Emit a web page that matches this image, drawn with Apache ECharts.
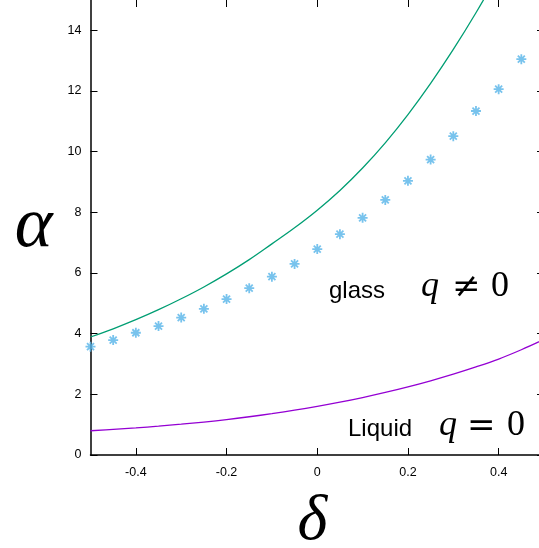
<!DOCTYPE html>
<html>
<head>
<meta charset="utf-8">
<script src="https://cdn.jsdelivr.net/npm/echarts@6/dist/echarts.min.js"></script>
<style>
html,body{margin:0;padding:0;background:#fff;overflow:hidden;}
#chart{width:539px;height:548px;}
</style>
</head>
<body>
<div id="chart"></div>
<script>
// ---- data ----
const xTicks = [-0.4, -0.2, 0, 0.2, 0.4];
const yTicks = [0, 2, 4, 6, 8, 10, 12, 14];

// glass points (asterisks)
const pointDelta = [-0.5, -0.45, -0.4, -0.35, -0.3, -0.25, -0.2, -0.15, -0.1, -0.05,
                    0, 0.05, 0.1, 0.15, 0.2, 0.25, 0.3, 0.35, 0.4, 0.45];
const pointAlpha = [3.57, 3.79, 4.03, 4.25, 4.53, 4.82, 5.14, 5.50, 5.88, 6.30,
                    6.79, 7.28, 7.82, 8.41, 9.04, 9.74, 10.51, 11.34, 12.06, 13.05];

// green curve
const greenDelta = [-0.5, -0.45, -0.4, -0.35, -0.3, -0.25, -0.2, -0.15, -0.1, -0.05,
                    0, 0.05, 0.1, 0.15, 0.2, 0.25, 0.3, 0.35, 0.4];
const greenAlpha = [3.89, 4.16, 4.46, 4.79, 5.15, 5.54, 5.97, 6.44, 6.96, 7.49,
                    8.07, 8.72, 9.46, 10.29, 11.22, 12.25, 13.37, 14.58, 15.88];

// purple curve (liquid)
const purpleDelta = [-0.5, -0.45, -0.4, -0.35, -0.3, -0.25, -0.2, -0.15, -0.1, -0.05,
                     0, 0.05, 0.1, 0.15, 0.2, 0.25, 0.3, 0.35, 0.4, 0.45, 0.5];
const purpleAlpha = [0.80, 0.846, 0.894, 0.951, 1.015, 1.087, 1.168, 1.261, 1.364, 1.477,
                     1.603, 1.742, 1.895, 2.063, 2.247, 2.447, 2.665, 2.903, 3.164, 3.47, 3.81];

const zip = (a, b) => a.map((v, i) => [v, b[i]]);

const chart = echarts.init(document.getElementById('chart'), null, {renderer: 'canvas'});

const sansFont = 'Liberation Sans, Arial, Helvetica, sans-serif';
const serifFont = 'Liberation Serif, DejaVu Serif, serif';

const axisLineStyle = {color: '#000', width: 1.5};
const tickStyle = {color: '#000', width: 1};

chart.setOption({
  animation: false,
  backgroundColor: '#fff',
  grid: {left: 90.5, right: -5, top: 0, bottom: 93, containLabel: false, outerBoundsMode: 'none'},
  xAxis: [
    {
      type: 'value', min: -0.5, max: 0.5, position: 'bottom',
      axisLine: {show: true, onZero: false, lineStyle: axisLineStyle},
      axisTick: {show: true, inside: true, length: 7, customValues: xTicks, lineStyle: tickStyle},
      axisLabel: {show: true, customValues: xTicks, color: '#000', fontSize: 12.5, fontFamily: sansFont, margin: 11},
      splitLine: {show: false},
      name: 'δ', nameLocation: 'middle', nameGap: 35,
      nameTextStyle: {fontFamily: serifFont, fontStyle: 'italic', fontSize: 64, color: '#000', padding: [0, 10, 0, 0]}
    },
    {
      type: 'value', min: -0.5, max: 0.5, position: 'top',
      axisLine: {show: false, onZero: false},
      axisTick: {show: true, inside: true, length: 7, customValues: xTicks, lineStyle: tickStyle},
      axisLabel: {show: false},
      splitLine: {show: false}
    }
  ],
  yAxis: [
    {
      type: 'value', min: 0, max: 15, position: 'left',
      axisLine: {show: true, onZero: false, lineStyle: axisLineStyle},
      axisTick: {show: true, inside: true, length: 7, customValues: yTicks, lineStyle: tickStyle},
      axisLabel: {show: true, customValues: yTicks, color: '#000', fontSize: 12.5, fontFamily: sansFont, margin: 9},
      splitLine: {show: false},
      name: 'α', nameLocation: 'middle', nameGap: 38, nameRotate: 0,
      nameTextStyle: {fontFamily: serifFont, fontStyle: 'italic', fontSize: 72, color: '#000', padding: [24, 0, 0, 0]}
    },
    {
      type: 'value', min: 0, max: 15, position: 'right',
      axisLine: {show: false, onZero: false},
      axisTick: {show: true, inside: true, length: 7, customValues: yTicks, lineStyle: tickStyle},
      axisLabel: {show: false},
      splitLine: {show: false}
    }
  ],
  series: [
    {
      name: 'glass curve', type: 'line', xAxisIndex: 0, yAxisIndex: 0,
      data: zip(greenDelta, greenAlpha), smooth: 0.4, showSymbol: false, clip: true,
      lineStyle: {color: '#009e73', width: 1.3}
    },
    {
      name: 'liquid', type: 'line', xAxisIndex: 0, yAxisIndex: 0,
      data: zip(purpleDelta, purpleAlpha), smooth: 0.4, showSymbol: false, clip: true,
      lineStyle: {color: '#9400d3', width: 1.3}
    },
    {
      name: 'glass points', type: 'scatter', xAxisIndex: 0, yAxisIndex: 0,
      data: zip(pointDelta, pointAlpha),
      symbol: 'path://M5,0L5,10M0,5L10,5M1.5,1.5L8.5,8.5M1.5,8.5L8.5,1.5',
      symbolSize: 10,
      itemStyle: {color: 'rgba(0,0,0,0)', borderColor: '#56b4e9', borderWidth: 1.8}
    }
  ],
  graphic: [
    {type: 'text', left: 329, top: 279, style: {text: 'glass', font: '24px ' + sansFont, fill: '#000'}},
    {type: 'text', left: 421, top: 269, style: {text: 'q', font: 'italic 36px ' + serifFont, fill: '#000'}},
    {type: 'text', left: 452, top: 271, style: {text: '≠', font: '34px DejaVu Serif', fill: '#000'}},
    {type: 'text', left: 491, top: 269, style: {text: '0', font: '36px ' + serifFont, fill: '#000'}},

    {type: 'text', left: 348, top: 417, style: {text: 'Liquid', font: '24px ' + sansFont, fill: '#000'}},
    {type: 'text', left: 439, top: 408, style: {text: 'q', font: 'italic 36px ' + serifFont, fill: '#000'}},
    {type: 'text', left: 467, top: 410, style: {text: '=', font: '34px DejaVu Serif', fill: '#000'}},
    {type: 'text', left: 507, top: 408, style: {text: '0', font: '36px ' + serifFont, fill: '#000'}}
  ]
});
</script>
</body>
</html>
